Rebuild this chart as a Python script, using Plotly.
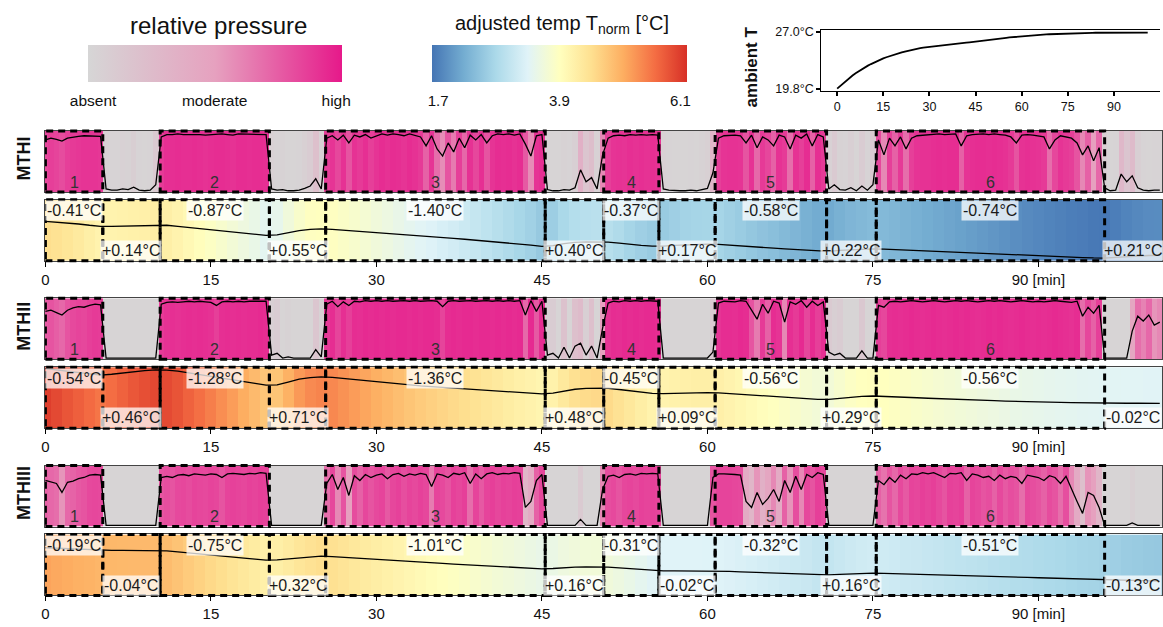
import plotly.graph_objects as go

# ---------------- data ----------------
row_names = ["MTHI", "MTHII", "MTHIII"]

# session segments (minutes)
seg_start = [0.0, 10.4, 25.4, 50.6, 60.7, 75.3]
seg_end = [5.2, 20.3, 45.3, 55.6, 70.8, 96.0]
seg_names = ["1", "2", "3", "4", "5", "6"]
t_max = 101.2

# relative pressure (%), sampled every 0.5 min from 0.0 to 101.0
pressure_MTHI = [
    85, 88, 86, 83, 88, 90, 91, 92, 92, 92,
    91, 3, 1, 1, 3, 2, 6, 1, 0, 1,
    10, 90, 94, 94, 95, 94, 94, 95, 94, 93,
    94, 95, 95, 94, 93, 95, 95, 94, 95, 95,
    94, 3, 1, 2, 0, 0, 1, 4, 8, 20,
    3, 88, 92, 85, 93, 80, 93, 90, 94, 88,
    92, 95, 93, 95, 94, 92, 95, 93, 90, 75,
    92, 70, 58, 80, 65, 88, 72, 93, 85, 94,
    80, 92, 95, 94, 95, 93, 95, 78, 58, 92,
    94, 2, 0, 0, 2, 1, 5, 35, 15, 22,
    3, 60, 88, 92, 93, 92, 94, 93, 94, 93,
    94, 93, 3, 1, 0, 0, 0, 1, 0, 2,
    4, 30, 88, 92, 93, 93, 92, 80, 93, 72,
    90, 85, 75, 93, 90, 70, 93, 88, 95, 75,
    94, 90, 3, 10, 2, 1, 5, 0, 8, 1,
    10, 85, 60, 88, 75, 90, 70, 88, 92, 93,
    93, 94, 95, 94, 95, 95, 75, 92, 94, 95,
    95, 94, 95, 94, 93, 90, 80, 93, 94, 93,
    92, 90, 70, 85, 92, 90, 88, 80, 60, 75,
    50, 72, 5, 0, 1, 28, 15, 25, 5, 1,
    0, 1, 1,
]
pressure_MTHII = [
    78, 80, 76, 72, 80, 84, 86, 85, 88, 90,
    89, 0, 0, 0, 0, 0, 0, 0, 0, 0,
    0, 90, 93, 94, 93, 94, 95, 94, 95, 94,
    93, 88, 94, 95, 94, 95, 94, 95, 95, 96,
    95, 5, 8, 0, 2, 0, 0, 0, 0, 14,
    2, 90, 95, 86, 94, 88, 95, 94, 96, 95,
    96, 95, 96, 95, 96, 96, 95, 96, 95, 96,
    96, 95, 86, 95, 96, 95, 96, 96, 95, 96,
    96, 95, 96, 95, 96, 95, 96, 72, 96, 78,
    95, 5, 8, 0, 18, 0, 20, 25, 5, 20,
    0, 50, 92, 95, 94, 96, 95, 96, 95, 96,
    96, 95, 0, 0, 0, 0, 0, 0, 0, 0,
    0, 10, 92, 95, 95, 94, 96, 95, 80, 65,
    90, 75, 95, 92, 60, 94, 90, 96, 85, 95,
    88, 94, 10, 5, 8, 0, 0, 0, 12, 0,
    0, 88, 85, 94, 95, 94, 95, 96, 95, 94,
    95, 96, 95, 94, 95, 96, 95, 96, 95, 94,
    95, 96, 95, 96, 95, 94, 95, 96, 95, 94,
    95, 94, 95, 96, 95, 94, 93, 95, 70, 85,
    75, 88, 0, 0, 0, 0, 0, 45, 70, 62,
    72, 55, 60,
]
pressure_MTHIII = [
    75, 72, 70, 55, 72, 74, 78, 80, 84, 85,
    84, 0, 0, 0, 0, 0, 0, 0, 0, 0,
    0, 80, 82, 80, 84, 85, 83, 86, 85, 84,
    86, 85, 80, 86, 87, 86, 85, 87, 86, 88,
    87, 0, 0, 0, 0, 0, 0, 0, 0, 0,
    0, 70, 85, 60, 80, 50, 83, 75, 85, 80,
    84, 86, 78, 85, 87, 82, 86, 84, 87, 85,
    65, 86, 84, 80, 87, 85, 88, 70, 86, 78,
    86, 88, 85, 87, 86, 88, 87, 30, 40, 75,
    85, 0, 0, 0, 0, 0, 0, 10, 0, 0,
    0, 60, 82, 84, 80, 85, 86, 84, 87, 86,
    87, 86, 0, 0, 0, 0, 0, 0, 0, 0,
    0, 80, 86, 86, 86, 85, 84, 40, 30, 55,
    35, 45, 60, 40, 75, 55, 82, 60, 85, 80,
    88, 85, 0, 0, 0, 0, 0, 0, 0, 0,
    0, 75, 68, 80, 72, 84, 78, 86, 85, 88,
    86, 88, 84, 80, 87, 86, 88, 75, 86, 84,
    80, 82, 75, 84, 78, 82, 80, 70, 84, 82,
    80, 75, 83, 80, 70, 82, 60, 40, 20, 55,
    50, 30, 0, 0, 0, 0, 0, 4, 0, 0,
    0, 0, 0,
]

# adjusted temperature T_norm (°C), sampled every 1 min from 0 to 101
temp_MTHI = [
    4.50, 4.45, 4.38, 4.30, 4.20, 4.12, 4.12, 4.14, 4.16, 4.18,
    4.22, 4.20, 4.12, 4.03, 3.94, 3.85, 3.76, 3.67, 3.58, 3.50,
    3.40, 3.45, 3.62, 3.78, 3.88, 3.91, 3.88, 3.82, 3.76, 3.70,
    3.63, 3.56, 3.49, 3.42, 3.36, 3.30, 3.23, 3.17, 3.10, 3.03,
    2.96, 2.88, 2.80, 2.72, 2.64, 2.54, 2.60, 2.75, 2.85, 2.89,
    2.91, 2.88, 2.80, 2.70, 2.62, 2.56, 2.56, 2.62, 2.67, 2.70,
    2.71, 2.70, 2.63, 2.57, 2.51, 2.45, 2.40, 2.34, 2.28, 2.22,
    2.16, 2.15, 2.22, 2.28, 2.32, 2.35, 2.33, 2.29, 2.25, 2.21,
    2.17, 2.13, 2.09, 2.05, 2.01, 1.97, 1.93, 1.89, 1.85, 1.81,
    1.78, 1.74, 1.71, 1.68, 1.66, 1.63, 1.62, 1.68, 1.74, 1.79,
    1.82, 1.83,
]
temp_MTHII = [
    6.09, 5.98, 5.87, 5.77, 5.67, 5.57, 5.64, 5.75, 5.85, 5.93,
    5.99, 5.97, 5.88, 5.75, 5.62, 5.49, 5.35, 5.21, 5.06, 4.92,
    4.78, 4.80, 5.02, 5.25, 5.38, 5.44, 5.40, 5.31, 5.22, 5.13,
    5.04, 4.96, 4.88, 4.80, 4.73, 4.67, 4.61, 4.55, 4.49, 4.43,
    4.37, 4.31, 4.25, 4.19, 4.14, 4.09, 4.15, 4.32, 4.46, 4.53,
    4.56, 4.54, 4.44, 4.33, 4.22, 4.13, 4.12, 4.15, 4.18, 4.20,
    4.20, 4.18, 4.12, 4.06, 4.00, 3.94, 3.89, 3.83, 3.77, 3.71,
    3.66, 3.66, 3.75, 3.84, 3.90, 3.93, 3.91, 3.87, 3.83, 3.79,
    3.75, 3.71, 3.68, 3.65, 3.62, 3.59, 3.56, 3.53, 3.50, 3.48,
    3.46, 3.44, 3.42, 3.41, 3.39, 3.38, 3.37, 3.37, 3.36, 3.36,
    3.35, 3.35,
]
temp_MTHIII = [
    5.15, 5.11, 5.07, 5.03, 5.00, 4.97, 4.95, 4.94, 4.93, 4.93,
    4.92, 4.90, 4.82, 4.73, 4.65, 4.57, 4.49, 4.41, 4.33, 4.26,
    4.18, 4.20, 4.28, 4.37, 4.44, 4.49, 4.46, 4.40, 4.34, 4.28,
    4.22, 4.17, 4.12, 4.07, 4.02, 3.97, 3.92, 3.87, 3.82, 3.77,
    3.72, 3.67, 3.63, 3.58, 3.54, 3.49, 3.52, 3.58, 3.62, 3.64,
    3.65, 3.63, 3.57, 3.50, 3.42, 3.35, 3.33, 3.33, 3.33, 3.33,
    3.32, 3.32, 3.29, 3.26, 3.23, 3.20, 3.16, 3.13, 3.10, 3.07,
    3.02, 3.01, 3.06, 3.11, 3.14, 3.16, 3.14, 3.12, 3.09, 3.07,
    3.04, 3.02, 2.99, 2.97, 2.94, 2.92, 2.89, 2.87, 2.84, 2.82,
    2.79, 2.77, 2.75, 2.72, 2.70, 2.68, 2.66, 2.62, 2.58, 2.56,
    2.54, 2.53,
]

# temperature change labels per session and per pause
seg_delta = {
    "MTHI": [-0.41, -0.87, -1.40, -0.37, -0.58, -0.74],
    "MTHII": [-0.54, -1.28, -1.36, -0.45, -0.56, -0.56],
    "MTHIII": [-0.19, -0.75, -1.01, -0.31, -0.32, -0.51],
}
gap_delta = {
    "MTHI": [0.14, 0.55, 0.40, 0.17, 0.22, 0.21],
    "MTHII": [0.46, 0.71, 0.48, 0.09, 0.29, -0.02],
    "MTHIII": [-0.04, 0.32, 0.16, -0.02, 0.16, -0.13],
}

# ambient temperature (°C), every 1 min from 0 to 101
ambient_T = [
    19.80, 20.15, 20.50, 20.83, 21.15, 21.45, 21.73, 22.00, 22.25, 22.48,
    22.70, 22.90, 23.10, 23.28, 23.45, 23.62, 23.76, 23.90, 24.02, 24.14,
    24.26, 24.37, 24.48, 24.58, 24.68, 24.77, 24.85, 24.92, 24.98, 25.03,
    25.08, 25.13, 25.18, 25.23, 25.28, 25.32, 25.36, 25.40, 25.44, 25.48,
    25.52, 25.56, 25.60, 25.64, 25.68, 25.72, 25.76, 25.81, 25.86, 25.91,
    25.96, 26.01, 26.06, 26.11, 26.16, 26.21, 26.26, 26.30, 26.34, 26.38,
    26.42, 26.45, 26.48, 26.51, 26.54, 26.57, 26.60, 26.62, 26.64, 26.66,
    26.68, 26.70, 26.72, 26.74, 26.76, 26.78, 26.79, 26.80, 26.81, 26.82,
    26.83, 26.83, 26.84, 26.84, 26.85, 26.85, 26.85, 26.86, 26.86, 26.86,
    26.86, 26.87, 26.87, 26.87, 26.87, 26.87, 26.87, 26.87, 26.87, 26.87,
    26.87, 26.87,
]

tick_vals = [0, 15, 30, 45, 60, 75, 90]
tick_text = ["0", "15", "30", "45", "60", "75", "90 [min]"]
press_ticks = [0, 50, 100]
press_ticktext = ["absent", "moderate", "high"]
temp_ticks = [1.7, 3.9, 6.1]
temp_ticktext = ["1.7", "3.9", "6.1"]
amb_ticks = [19.8, 27.0]
amb_ticktext = ["19.8°C", "27.0°C"]

pressures = [pressure_MTHI, pressure_MTHII, pressure_MTHIII]
temps = [temp_MTHI, temp_MTHII, temp_MTHIII]

# ---------------- figure ----------------
W, H = 1163, 627
FONT = "Liberation Sans, Arial, sans-serif"
PRESS_SCALE = [[0, "#d6d6d6"], [0.5, "#e6a1bf"], [1, "#e6198a"]]
TEMP_SCALE = [[0, "#4575b4"], [0.125, "#74add1"], [0.25, "#abd9e9"], [0.375, "#e0f3f8"],
              [0.5, "#ffffbf"], [0.625, "#fee090"], [0.75, "#fdae61"], [0.875, "#f46d43"],
              [1, "#d73027"]]
P_RANGE = [-2, 100]
T_RANGE = [1.4, 6.2]


def fx(p):
    return p / W


def fy(p):
    return 1 - p / H


def aid(n):
    return "" if n == 1 else str(n)


press_px = [(128, 190), (298, 360), (468, 530)]
temp_px = [(198, 260), (368, 430), (538, 600)]
x_dom = [fx(41), fx(1162)]
x_range = [-0.05, t_max]

fig = go.Figure()
layout = {}
shapes = []
annotations = []
dash_line = dict(color="black", width=3, dash="7px,5px")
mid = dict(xanchor="center", yanchor="middle", showarrow=False)

for i, name in enumerate(row_names):
    pa = aid(2 * i + 1)
    ta = aid(2 * i + 2)
    P = pressures[i]
    T = temps[i]
    tp = [k * 0.5 for k in range(len(P))]
    tt = [float(k) for k in range(len(T))]

    fig.add_trace(go.Heatmap(x=tp, y=P_RANGE, z=[P], coloraxis="coloraxis",
                             xaxis=f"x{pa}", yaxis=f"y{pa}", hoverinfo="skip"))
    fig.add_trace(go.Scatter(x=tp, y=P, mode="lines", line=dict(color="black", width=1.3),
                             xaxis=f"x{pa}", yaxis=f"y{pa}", showlegend=False, hoverinfo="skip"))
    fig.add_trace(go.Heatmap(x=tt, y=T_RANGE, z=[T], coloraxis="coloraxis2",
                             xaxis=f"x{ta}", yaxis=f"y{ta}", hoverinfo="skip"))
    fig.add_trace(go.Scatter(x=tt, y=T, mode="lines", line=dict(color="black", width=1.3),
                             xaxis=f"x{ta}", yaxis=f"y{ta}", showlegend=False, hoverinfo="skip"))

    for a, (top, bot), is_temp in ((pa, press_px[i], False), (ta, temp_px[i], True)):
        layout[f"xaxis{a}"] = dict(
            domain=x_dom, range=x_range, anchor=f"y{a}", showgrid=False, zeroline=False,
            showline=True, mirror=True, linecolor="#444", linewidth=1,
            tickvals=tick_vals, ticktext=tick_text,
            ticks="outside" if is_temp else "", ticklen=5, tickcolor="black",
            showticklabels=is_temp, tickfont=dict(size=15, color="#111"),
        )
        layout[f"yaxis{a}"] = dict(
            domain=[fy(bot), fy(top)], range=T_RANGE if is_temp else P_RANGE,
            anchor=f"x{a}", showgrid=False, zeroline=False, showticklabels=False,
            ticks="", showline=True, mirror=True, linecolor="#444", linewidth=1,
        )

    # dashed session boxes in pressure panel
    for s, e, lab in zip(seg_start, seg_end, seg_names):
        shapes.append(dict(type="rect", xref=f"x{pa}", yref=f"y{pa} domain",
                           x0=s, x1=e, y0=0, y1=1, line=dash_line, layer="above"))
        annotations.append(dict(xref=f"x{pa}", yref=f"y{pa} domain", x=(s + e) / 2, y=0.16,
                                text=lab, font=dict(size=16, color="#333"), **mid))
    # dashed boxes for sessions and pauses in temperature panel
    bounds = []
    for k in range(len(seg_start)):
        bounds.append((seg_start[k], seg_end[k]))
        if k + 1 < len(seg_start):
            bounds.append((seg_end[k], seg_start[k + 1]))
    for s, e in bounds:
        shapes.append(dict(type="rect", xref=f"x{ta}", yref=f"y{ta} domain",
                           x0=s, x1=e, y0=0, y1=1, line=dash_line, layer="above"))
    gaps = [(seg_end[k], seg_start[k + 1]) for k in range(len(seg_start) - 1)] + [(seg_end[-1], t_max)]
    for (s, e), v in zip(zip(seg_start, seg_end), seg_delta[name]):
        annotations.append(dict(xref=f"x{ta}", yref=f"y{ta} domain", x=(s + e) / 2, y=0.82,
                                text=f"{v:+.2f}°C", font=dict(size=16, color="#1a1a1a"),
                                bgcolor="rgba(255,255,255,0.75)", borderpad=1, **mid))
    for (s, e), v in zip(gaps, gap_delta[name]):
        annotations.append(dict(xref=f"x{ta}", yref=f"y{ta} domain", x=(s + e) / 2, y=0.17,
                                text=f"{v:+.2f}°C", font=dict(size=16, color="#1a1a1a"),
                                bgcolor="rgba(255,255,255,0.75)", borderpad=1, **mid))
    # row title
    annotations.append(dict(xref="paper", yref="paper", x=fx(20),
                            y=fy((press_px[i][0] + press_px[i][1]) / 2 - 3),
                            text=f"<b>{name}</b>", textangle=-90,
                            font=dict(size=18, color="#111"), **mid))

# ambient temperature inset
t_amb = [float(k) for k in range(len(ambient_T))]
fig.add_trace(go.Scatter(x=t_amb, y=ambient_T, mode="lines", line=dict(color="black", width=1.8),
                         xaxis="x7", yaxis="y7", showlegend=False, hoverinfo="skip"))
layout["xaxis7"] = dict(domain=[fx(820), fx(1160)], range=[-5.2, 105], anchor="y7",
                        showgrid=False, zeroline=False, showline=True, mirror=True,
                        linecolor="black", linewidth=1, tickvals=tick_vals,
                        ticktext=[str(v) for v in tick_vals], ticks="outside", ticklen=4,
                        tickwidth=2, tickcolor="black", tickfont=dict(size=12.5, color="#111"))
layout["yaxis7"] = dict(domain=[fy(87), fy(25)], range=[19.55, 27.25], anchor="x7",
                        showgrid=False, zeroline=False, showline=True, linecolor="black",
                        linewidth=1, tickvals=amb_ticks, ticktext=amb_ticktext, ticks="outside",
                        ticklen=4, tickwidth=2, tickcolor="black",
                        tickfont=dict(size=12.5, color="#111"))
annotations.append(dict(xref="paper", yref="paper", x=fx(751), y=fy(63), text="<b>ambient T</b>",
                        textangle=-90, font=dict(size=17, color="#111"), **mid))

# legend titles
annotations.append(dict(xref="paper", yref="paper", x=fx(215), y=fy(21), text="relative pressure",
                        font=dict(size=24, color="#111"), **mid))
annotations.append(dict(xref="paper", yref="paper", x=fx(560), y=fy(20),
                        text="adjusted temp T<sub>norm</sub> [°C]",
                        font=dict(size=20, color="#111"), **mid))

layout["coloraxis"] = dict(
    cmin=-2, cmax=102.5, colorscale=PRESS_SCALE,
    colorbar=dict(orientation="h", x=fx(212), xanchor="center", y=fy(41), yanchor="top",
                  lenmode="pixels", len=254, thicknessmode="pixels", thickness=37,
                  outlinewidth=0, xpad=0, ypad=0,
                  tickvals=press_ticks, ticktext=press_ticktext, ticks="outside", ticklen=6,
                  tickcolor="rgba(0,0,0,0)", tickfont=dict(size=15.5, color="#111")),
)
layout["coloraxis2"] = dict(
    cmin=1.59, cmax=6.22, colorscale=TEMP_SCALE,
    colorbar=dict(orientation="h", x=fx(557.5), xanchor="center", y=fy(41), yanchor="top",
                  lenmode="pixels", len=255, thicknessmode="pixels", thickness=37,
                  outlinewidth=0, xpad=0, ypad=0,
                  tickvals=temp_ticks, ticktext=temp_ticktext, ticks="outside", ticklen=6,
                  tickcolor="rgba(0,0,0,0)", tickfont=dict(size=15, color="#111")),
)

fig.update_layout(
    width=W, height=H, margin=dict(l=0, r=0, t=0, b=0),
    paper_bgcolor="white", plot_bgcolor="white",
    font=dict(family=FONT, color="#111"),
    showlegend=False, shapes=shapes, annotations=annotations,
    **layout,
)
fig.write_html("out.html")
